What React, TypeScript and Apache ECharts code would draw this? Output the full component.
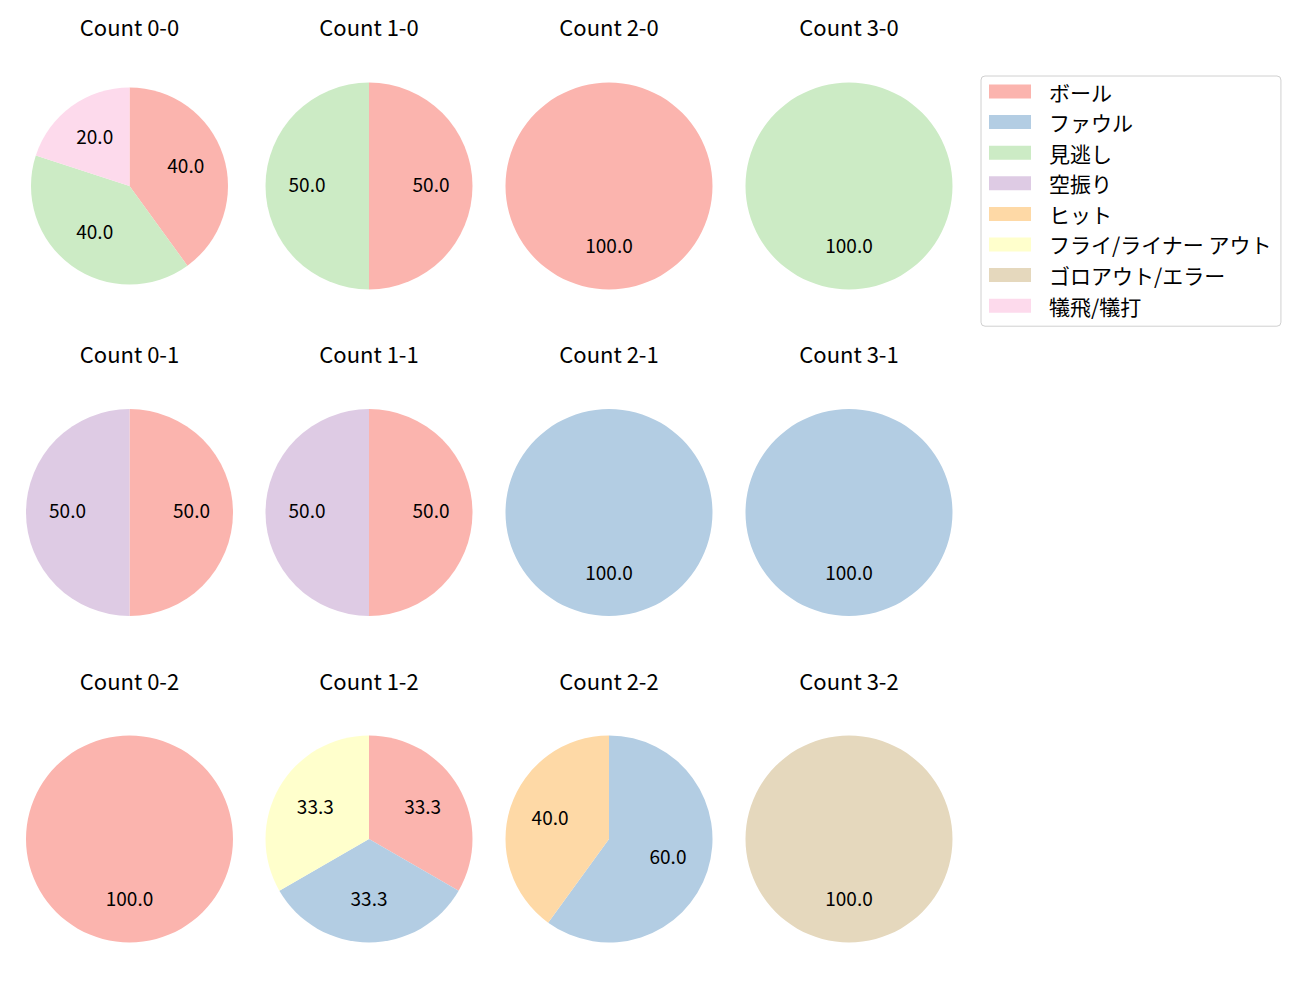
import React, { useEffect, useRef } from "react";
import * as echarts from "echarts";

const categories = [
  "ボール",
  "ファウル",
  "見逃し",
  "空振り",
  "ヒット",
  "フライ/ライナー アウト",
  "ゴロアウト/エラー",
  "犠飛/犠打",
];
const palette = ["#fbb4ae", "#b3cde3", "#ccebc5", "#decbe4", "#fed9a6", "#ffffcc", "#e5d8bd", "#fddaec"];

const countTitles = [
  "Count 0-0", "Count 1-0", "Count 2-0", "Count 3-0",
  "Count 0-1", "Count 1-1", "Count 2-1", "Count 3-1",
  "Count 0-2", "Count 1-2", "Count 2-2", "Count 3-2",
];
const c00 = [2, 0, 2, 0, 0, 0, 0, 1];
const c10 = [1, 0, 1, 0, 0, 0, 0, 0];
const c20 = [1, 0, 0, 0, 0, 0, 0, 0];
const c30 = [0, 0, 1, 0, 0, 0, 0, 0];
const c01 = [1, 0, 0, 1, 0, 0, 0, 0];
const c11 = [1, 0, 0, 1, 0, 0, 0, 0];
const c21 = [0, 1, 0, 0, 0, 0, 0, 0];
const c31 = [0, 1, 0, 0, 0, 0, 0, 0];
const c02 = [1, 0, 0, 0, 0, 0, 0, 0];
const c12 = [1, 1, 0, 0, 0, 1, 0, 0];
const c22 = [0, 3, 0, 0, 2, 0, 0, 0];
const c32 = [0, 0, 0, 0, 0, 0, 1, 0];
const countValues = [c00, c10, c20, c30, c01, c11, c21, c31, c02, c12, c22, c32];

const FONT = '"Noto Sans CJK JP", "IPAexGothic", sans-serif';
const colX = [129.5, 369, 609, 849];
const rowY = [186, 512.5, 839];
const titleTop = [14.5, 341.5, 668.5];
const radii = [98.5, 103.5, 103.5, 103.5, 103.5, 103.5, 103.5, 103.5, 103.5, 103.5, 103.5, 103.5];
const LABEL_SHIFT = 3;

function buildData(values: number[], visible: boolean) {
  const out: any[] = [];
  values.forEach((v, i) => {
    if (v > 0) {
      out.push({
        name: categories[i],
        value: v,
        itemStyle: { color: visible ? palette[i] : "rgba(0,0,0,0)", borderWidth: 0 },
      });
    }
  });
  return out;
}

export default function App() {
  const ref = useRef<HTMLDivElement>(null);
  useEffect(() => {
    document.body.style.margin = "0";
    if (!ref.current) return;
    const chart = echarts.init(ref.current, undefined, { renderer: "svg" });
    const pies: any[] = [];
    const labelPies: any[] = [];
    const titles: any[] = [];
    countTitles.forEach((t, k) => {
      const r = Math.floor(k / 4);
      const c = k % 4;
      titles.push({
        text: t,
        left: colX[c],
        top: titleTop[r],
        textAlign: "center",
        padding: 0,
        textStyle: { fontFamily: FONT, fontSize: 22, fontWeight: "normal", color: "#000" },
      });
      pies.push({
        type: "pie",
        center: [colX[c], rowY[r]],
        radius: [0, radii[k]],
        startAngle: 90,
        clockwise: true,
        silent: true,
        label: { show: false },
        labelLine: { show: false },
        emphasis: { disabled: true },
        data: buildData(countValues[k], true),
      });
      labelPies.push({
        type: "pie",
        center: [colX[c], rowY[r] - LABEL_SHIFT],
        radius: [0, radii[k] * 1.14],
        startAngle: 90,
        clockwise: true,
        silent: true,
        label: {
          show: true,
          position: "inside",
          color: "#000",
          fontFamily: FONT,
          fontSize: 19,
          formatter: (p: any) => p.percent.toFixed(1),
        },
        labelLine: { show: false },
        emphasis: { disabled: true },
        data: buildData(countValues[k], false),
      });
    });
    chart.setOption({
      animation: false,
      backgroundColor: "#fff",
      title: titles,
      legend: {
        data: categories,
        orient: "vertical",
        left: 981,
        top: 76,
        icon: "rect",
        itemWidth: 42,
        itemHeight: 14,
        itemGap: 9.6,
        padding: [5, 9, 10, 8],
        backgroundColor: "#fff",
        borderColor: "#d0d0d0",
        borderWidth: 1,
        borderRadius: 4,
        selectedMode: false,
        textStyle: {
          fontFamily: FONT,
          fontSize: 21,
          color: "#000",
          padding: [0, 0, 0, 13],
        },
      },
      series: [...pies, ...labelPies],
    });
    return () => chart.dispose();
  }, []);
  return <div ref={ref} style={{ width: 1300, height: 1000 }} />;
}
